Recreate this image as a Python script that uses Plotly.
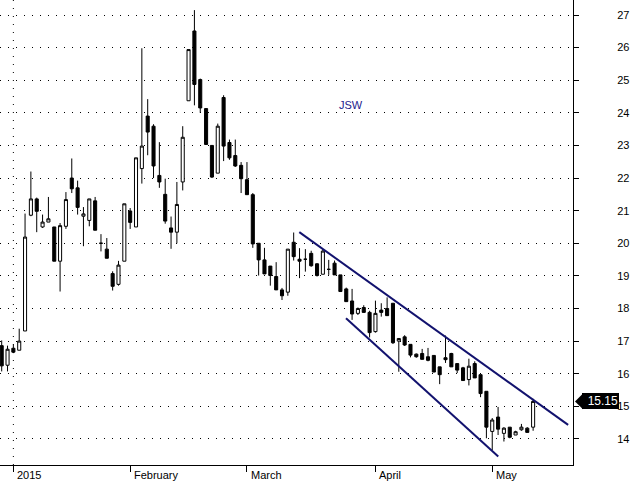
import plotly.graph_objects as go

# ---------------- data ----------------
dates = [
    "2014-12-29", "2014-12-30",
    "2015-01-02", "2015-01-05", "2015-01-07", "2015-01-08", "2015-01-09",
    "2015-01-12", "2015-01-13", "2015-01-14", "2015-01-15", "2015-01-16",
    "2015-01-19", "2015-01-20", "2015-01-21", "2015-01-22", "2015-01-23",
    "2015-01-26", "2015-01-27", "2015-01-28", "2015-01-29", "2015-01-30",
    "2015-02-02", "2015-02-03", "2015-02-04", "2015-02-05", "2015-02-06",
    "2015-02-09", "2015-02-10", "2015-02-11", "2015-02-12", "2015-02-13",
    "2015-02-16", "2015-02-17", "2015-02-18", "2015-02-19", "2015-02-20",
    "2015-02-23", "2015-02-24", "2015-02-25", "2015-02-26", "2015-02-27",
    "2015-03-02", "2015-03-03", "2015-03-04", "2015-03-05", "2015-03-06",
    "2015-03-09", "2015-03-10", "2015-03-11", "2015-03-12", "2015-03-13",
    "2015-03-16", "2015-03-17", "2015-03-18", "2015-03-19", "2015-03-20",
    "2015-03-23", "2015-03-24", "2015-03-25", "2015-03-26", "2015-03-27",
    "2015-03-30", "2015-03-31",
    "2015-04-01", "2015-04-02", "2015-04-07", "2015-04-08", "2015-04-09",
    "2015-04-10", "2015-04-13", "2015-04-14", "2015-04-15", "2015-04-16",
    "2015-04-17", "2015-04-20", "2015-04-21", "2015-04-22", "2015-04-23",
    "2015-04-24", "2015-04-27", "2015-04-28", "2015-04-29", "2015-04-30",
    "2015-05-04", "2015-05-05", "2015-05-06", "2015-05-07", "2015-05-08",
    "2015-05-11", "2015-05-12", "2015-05-13",
]

open_ = [
    16.86, 16.26, 16.78, 16.72, 17.31, 20.86, 21.36, 20.50, 20.65, 20.50,
    19.45, 20.52, 22.00, 21.70, 20.83, 20.70, 21.30, 20.00, 19.82, 19.07,
    18.74, 19.45, 20.99, 20.50, 22.29, 23.90, 23.59, 22.08, 21.50, 20.47,
    20.34, 21.88, 24.37, 26.51, 25.02, 24.13, 23.00, 22.15, 24.47, 23.09,
    22.69, 22.39, 21.95, 21.49, 20.00, 19.49, 19.30, 18.98, 18.57, 18.50,
    20.03, 19.51, 19.51, 19.69, 19.37, 19.05, 19.20, 19.39, 19.03, 18.60,
    18.23, 17.85, 18.03, 17.88, 17.29, 17.95, 18.00, 18.16, 17.00, 17.13,
    16.90, 16.60, 16.62, 16.52, 16.56, 16.21, 16.49, 16.62, 16.31, 16.18,
    15.82, 16.31, 15.97, 15.46, 14.23, 14.67, 14.17, 14.36, 14.12, 14.28,
    14.33, 14.36,
]
high = [
    17.02, 16.86, 16.89, 17.38, 20.91, 22.20, 21.40, 20.88, 21.42, 20.50,
    20.62, 21.57, 22.60, 21.92, 21.11, 21.36, 21.42, 20.28, 20.16, 19.14,
    19.46, 21.21, 21.08, 22.62, 25.98, 24.42, 23.65, 23.10, 21.98, 20.82,
    21.88, 23.59, 25.94, 27.15, 25.05, 24.13, 23.00, 23.67, 24.54, 23.18,
    23.18, 22.49, 22.49, 21.54, 20.00, 19.86, 19.30, 19.42, 18.63, 19.82,
    20.33, 19.85, 19.82, 19.77, 19.39, 19.82, 19.49, 19.47, 19.03, 18.64,
    18.60, 18.03, 18.10, 17.93, 18.24, 18.16, 18.34, 18.16, 17.08, 17.18,
    16.90, 16.62, 16.76, 16.79, 16.56, 16.21, 17.17, 16.64, 16.31, 16.21,
    16.46, 16.38, 15.97, 15.46, 14.64, 14.98, 14.36, 14.36, 14.25, 14.46,
    14.36, 15.23,
]
low = [
    16.07, 16.07, 16.63, 16.72, 17.31, 20.83, 20.34, 20.47, 20.65, 19.45,
    18.52, 20.44, 21.54, 20.88, 19.91, 20.52, 20.40, 19.75, 19.54, 18.55,
    18.70, 19.45, 20.44, 20.50, 21.83, 22.70, 22.00, 21.70, 20.60, 19.83,
    20.00, 21.62, 24.37, 24.23, 24.00, 23.03, 22.00, 22.15, 22.52, 22.56,
    22.34, 21.54, 21.49, 19.86, 19.01, 19.06, 18.70, 18.57, 18.26, 18.39,
    19.47, 18.93, 19.13, 19.28, 18.98, 19.05, 19.03, 19.03, 18.52, 18.21,
    17.65, 17.80, 17.88, 17.11, 17.26, 17.75, 17.78, 16.91, 16.06, 16.85,
    16.50, 16.49, 16.44, 16.38, 16.05, 15.68, 16.33, 16.21, 16.02, 15.79,
    15.64, 15.87, 15.28, 14.02, 13.66, 14.12, 13.92, 14.02, 14.12, 14.25,
    14.20, 14.25,
]
close = [
    16.24, 16.75, 16.66, 17.00, 20.19, 21.36, 20.98, 20.65, 20.75, 19.45,
    20.54, 21.34, 21.67, 21.10, 20.90, 21.36, 20.40, 20.00, 19.54, 18.68,
    19.33, 21.21, 20.64, 22.62, 22.98, 23.41, 22.37, 21.88, 20.68, 20.34,
    21.19, 23.25, 25.94, 24.87, 24.15, 23.03, 22.03, 23.59, 22.98, 22.62,
    22.37, 21.98, 21.49, 19.98, 19.49, 19.06, 19.01, 18.57, 18.39, 19.82,
    19.59, 19.45, 19.51, 19.31, 19.01, 19.76, 19.20, 19.03, 18.52, 18.21,
    17.83, 18.00, 17.88, 17.26, 17.85, 17.88, 17.78, 16.95, 17.08, 16.88,
    16.57, 16.52, 16.44, 16.41, 16.05, 15.97, 16.43, 16.21, 16.11, 15.79,
    16.23, 15.87, 15.39, 14.36, 14.58, 14.30, 14.33, 14.05, 14.22, 14.36,
    14.20, 15.15,
]

month_ticks = ["2015-01-02", "2015-02-02", "2015-03-02", "2015-04-01", "2015-05-04"]
month_labels = ["2015", "February", "March", "April", "May"]
price_ticks = list(range(14, 28))

# channel lines (trading-day index, price)
upper_channel_idx = [50.96, 97.0]
upper_channel_price = [20.34, 14.43]
lower_channel_idx = [58.96, 85.03]
lower_channel_price = [17.70, 13.46]

title_text = "JSW"

# ---------------- figure ----------------
FONT = "Liberation Sans, Arial, sans-serif"
NAVY = "#12126e"
idx = list(range(len(dates)))
tick_idx = [dates.index(d) for d in month_ticks]

fig = go.Figure()
fig.add_trace(go.Candlestick(
    x=idx, open=open_, high=high, low=low, close=close,
    increasing=dict(line=dict(color="black", width=1), fillcolor="white"),
    decreasing=dict(line=dict(color="black", width=1), fillcolor="black"),
    whiskerwidth=0, hoverinfo="skip", showlegend=False,
))
fig.add_trace(go.Scatter(x=upper_channel_idx, y=upper_channel_price, mode="lines",
                         line=dict(color=NAVY, width=2), hoverinfo="skip", showlegend=False))
fig.add_trace(go.Scatter(x=lower_channel_idx, y=lower_channel_price, mode="lines",
                         line=dict(color=NAVY, width=2), hoverinfo="skip", showlegend=False))

fig.update_layout(
    width=632, height=485,
    margin=dict(l=0, r=59, t=0, b=20),
    paper_bgcolor="white", plot_bgcolor="white",
    font=dict(family=FONT, size=11, color="black"),
    boxgap=0.25,
    showlegend=False,
    xaxis=dict(
        type="linear", range=[-0.29, 97.83], rangeslider=dict(visible=False),
        showgrid=False, zeroline=False,
        showline=True, linecolor="black", linewidth=1,
        tickmode="array", tickvals=tick_idx, ticktext=[""] * len(tick_idx),
        ticks="outside", ticklen=6, tickcolor="black", tickwidth=1,
        fixedrange=True,
    ),
    yaxis=dict(
        side="right", range=[13.20, 27.46],
        showgrid=True, gridcolor="black", gridwidth=1, griddash="1px,7px",
        zeroline=False,
        showline=True, linecolor="black", linewidth=1,
        tickmode="array", tickvals=price_ticks,
        ticks="outside", ticklen=5, tickcolor="black", tickwidth=1,
        ticklabelstandoff=36,
        tickfont=dict(family=FONT, size=11, color="black"),
        fixedrange=True,
    ),
)

# dotted year separator
fig.add_shape(type="line", xref="x", yref="paper", x0=tick_idx[0], x1=tick_idx[0], y0=0, y1=1,
              line=dict(color="black", width=1, dash="1px,7px"), layer="below")

# month labels (left-aligned next to tick)
for ti, lab in zip(tick_idx, month_labels):
    fig.add_annotation(x=ti, y=0, xref="x", yref="paper", text=lab, showarrow=False,
                       xanchor="left", yanchor="top", xshift=2, yshift=-2,
                       font=dict(family=FONT, size=11, color="black"))

# title
fig.add_annotation(x=0.6126, y=0.792, xref="paper", yref="paper", text=title_text,
                   showarrow=False, font=dict(family=FONT, size=11, color="#1c1c8c"))

# last price tag: arrow tip shape + black label box
last = close[-1]
h = 0.24
x_tip, x_l = 575 / 573, 583 / 573
fig.add_shape(type="path", xref="paper", yref="y",
              path=f"M {x_tip},{last} L {x_l},{last + h} L {x_l},{last - h} Z",
              fillcolor="black", line=dict(color="black", width=0))
fig.add_annotation(x=582 / 573, y=last, xref="paper", yref="y", text=f"{last:.2f}",
                   showarrow=False, xanchor="left", yanchor="middle",
                   bgcolor="black", borderpad=1, borderwidth=0, width=35, align="right",
                   font=dict(family=FONT, size=12, color="white"))

fig.write_html("out.html", config={"displayModeBar": False},
               post_script="document.body.style.margin='0';document.body.style.overflow='hidden';")
